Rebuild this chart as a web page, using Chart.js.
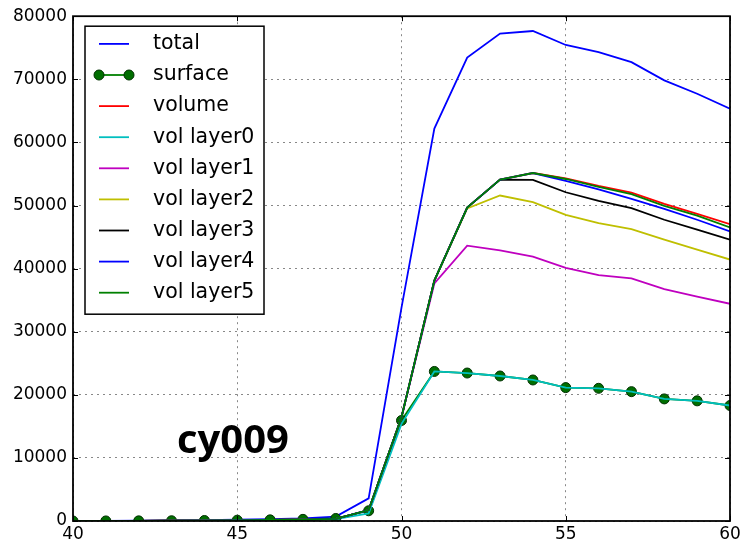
<!DOCTYPE html>
<html lang="en">
<head>
  <meta charset="UTF-8">
  <title>cy009</title>
  <script src="https://cdn.jsdelivr.net/npm/chart.js"></script>
  <style>
    body, html {
      margin: 0;
      padding: 0;
      overflow: hidden;
      background: #fff;
    }
    #wrap {
      width: 740px;
      height: 545px;
    }
  </style>
</head>
<body>
  <div id="wrap"><canvas id="cyChart"></canvas></div>

  <script>
    // x positions (shared by all series)
    const xs = [40, 41, 42, 43, 44, 45, 46, 47, 48, 49, 50, 51, 52, 53, 54, 55, 56, 57, 58, 59, 60];

    const total     = [0, 20, 40, 80, 130, 200, 280, 400, 700, 3580, 33800, 62190, 73450, 77240, 77650, 75440, 74290, 72710, 69830, 67710, 65350];
    const surface   = [0, 10, 20, 40, 80, 130, 180, 260, 400, 1620, 15930, 23700, 23450, 22980, 22350, 21140, 21030, 20500, 19350, 19040, 18300];
    const volume    = [0, 10, 20, 40, 70, 110, 160, 230, 350, 1735, 16450, 38100, 49680, 54100, 55150, 54310, 53100, 52050, 50270, 48690, 47050];
    const volLayer0 = [0, 5, 10, 30, 60, 100, 140, 200, 300, 1200, 15400, 23700, 23450, 22980, 22350, 21140, 21030, 20500, 19350, 19040, 18300];
    const volLayer1 = [0, 10, 20, 40, 70, 110, 160, 230, 350, 1735, 16450, 37650, 43640, 42900, 41910, 40110, 38960, 38440, 36750, 35540, 34430];
    const volLayer2 = [0, 10, 20, 40, 70, 110, 160, 230, 350, 1735, 16450, 38100, 49550, 51580, 50520, 48530, 47210, 46260, 44590, 43010, 41440];
    const volLayer3 = [0, 10, 20, 40, 70, 110, 160, 230, 350, 1735, 16450, 38100, 49680, 54100, 54050, 52100, 50740, 49580, 47740, 46170, 44590];
    const volLayer4 = [0, 10, 20, 40, 70, 110, 160, 230, 350, 1735, 16450, 38100, 49680, 54100, 55150, 53900, 52570, 51060, 49480, 47740, 45900];
    const volLayer5 = [0, 10, 20, 40, 70, 110, 160, 230, 350, 1735, 16450, 38100, 49680, 54100, 55150, 54200, 52950, 51790, 49950, 48380, 46530];

    const seriesNames  = ['total', 'surface', 'volume', 'vol layer0', 'vol layer1', 'vol layer2', 'vol layer3', 'vol layer4', 'vol layer5'];
    const seriesValues = [total, surface, volume, volLayer0, volLayer1, volLayer2, volLayer3, volLayer4, volLayer5];
    const seriesColors = ['#0000ff', '#008000', '#ff0000', '#00bfbf', '#bf00bf', '#bfbf00', '#000000', '#0000ff', '#008000'];

    const xTicks = [40, 45, 50, 55, 60];
    const yTicks = [0, 10000, 20000, 30000, 40000, 50000, 60000, 70000, 80000];

    // label written inside the plot, in data coordinates
    const caseLabel = { text: 'cy009', x: 44.87, y: 10700 };

    const tickFont = { family: 'DejaVu Sans', size: 17 };

    const datasets = seriesNames.map((name, i) => ({
      label: name,
      data: xs.map((x, k) => ({ x: x, y: seriesValues[i][k] })),
      borderColor: seriesColors[i],
      backgroundColor: seriesColors[i],
      borderWidth: 1.8,
      pointRadius: name === 'surface' ? 5 : 0,
      pointBackgroundColor: '#006e00',
      pointBorderColor: '#003000',
      pointBorderWidth: 1,
      tension: 0,
      // later series are painted on top
      order: seriesNames.length - i
    }));

    // box, inward tick marks, legend and case label
    const decorations = {
      id: 'decorations',
      afterDatasetsDraw(chart) {
        const { ctx, chartArea: a, scales } = chart;
        const sx = scales.x, sy = scales.y;

        // case label
        ctx.save();
        ctx.font = 'bold 40px "Open Sans"';
        ctx.fillStyle = '#000';
        ctx.textAlign = 'center';
        ctx.textBaseline = 'alphabetic';
        ctx.fillText(caseLabel.text, sx.getPixelForValue(caseLabel.x), sy.getPixelForValue(caseLabel.y));
        ctx.restore();

        // frame
        ctx.save();
        ctx.strokeStyle = '#000';
        ctx.lineWidth = 1.8;
        ctx.strokeRect(a.left, a.top, a.right - a.left, a.bottom - a.top);

        // tick marks pointing inwards on all four sides
        ctx.lineWidth = 1;
        const tl = 5;
        ctx.beginPath();
        xTicks.forEach(v => {
          const px = Math.round(sx.getPixelForValue(v)) + 0.5;
          ctx.moveTo(px, a.bottom); ctx.lineTo(px, a.bottom - tl);
          ctx.moveTo(px, a.top); ctx.lineTo(px, a.top + tl);
        });
        yTicks.forEach(v => {
          const py = Math.round(sy.getPixelForValue(v)) + 0.5;
          ctx.moveTo(a.left, py); ctx.lineTo(a.left + tl, py);
          ctx.moveTo(a.right, py); ctx.lineTo(a.right - tl, py);
        });
        ctx.stroke();
        ctx.restore();

        // legend box
        const bx = a.left + 12, by = a.top + 10, bw = 179, bh = 288;
        const rowH = 31.1;
        ctx.save();
        ctx.fillStyle = '#fff';
        ctx.fillRect(bx, by, bw, bh);
        ctx.strokeStyle = '#000';
        ctx.lineWidth = 1.5;
        ctx.strokeRect(bx, by, bw, bh);
        ctx.font = '20.5px "DejaVu Sans"';
        ctx.textBaseline = 'middle';
        ctx.textAlign = 'left';
        chart.data.datasets.forEach((ds, i) => {
          const y = by + 17.7 + i * rowH;
          const x1 = bx + 14, x2 = bx + 44;
          ctx.strokeStyle = ds.borderColor;
          ctx.lineWidth = ds.borderWidth;
          ctx.beginPath();
          ctx.moveTo(x1, y);
          ctx.lineTo(x2, y);
          ctx.stroke();
          if (ds.pointRadius > 0) {
            [x1, x2].forEach(px => {
              ctx.beginPath();
              ctx.arc(px, y, ds.pointRadius, 0, Math.PI * 2);
              ctx.fillStyle = ds.pointBackgroundColor;
              ctx.fill();
              ctx.strokeStyle = ds.pointBorderColor;
              ctx.lineWidth = 1;
              ctx.stroke();
            });
          }
          ctx.fillStyle = '#000';
          ctx.fillText(ds.label, bx + 68, y);
        });
        ctx.restore();
      }
    };

    const ctx = document.getElementById('cyChart').getContext('2d');
    new Chart(ctx, {
      type: 'line',
      data: { datasets: datasets },
      options: {
        responsive: true,
        maintainAspectRatio: false,
        animation: false,
        layout: { padding: { top: 14, right: 10, bottom: 0, left: 0 } },
        scales: {
          x: {
            type: 'linear',
            min: 40,
            max: 60,
            afterFit: s => { s.height = 24; s.paddingLeft = 0; s.paddingRight = 0; },
            afterBuildTicks: s => { s.ticks = xTicks.map(v => ({ value: v })); },
            ticks: {
              color: '#000',
              font: tickFont,
              padding: 3,
              maxRotation: 0,
              callback: v => String(v)
            },
            grid: { color: '#888', lineWidth: 1, drawTicks: false },
            border: { display: false, dash: [2, 4] }
          },
          y: {
            min: 0,
            max: 80000,
            afterFit: s => { s.width = 73; },
            afterBuildTicks: s => { s.ticks = yTicks.map(v => ({ value: v })); },
            ticks: {
              color: '#000',
              font: tickFont,
              padding: 6,
              callback: v => String(v)
            },
            grid: { color: '#888', lineWidth: 1, drawTicks: false },
            border: { display: false, dash: [2, 4] }
          }
        },
        plugins: {
          legend: { display: false },
          tooltip: { enabled: false }
        }
      },
      plugins: [decorations]
    });
  </script>
</body>
</html>
